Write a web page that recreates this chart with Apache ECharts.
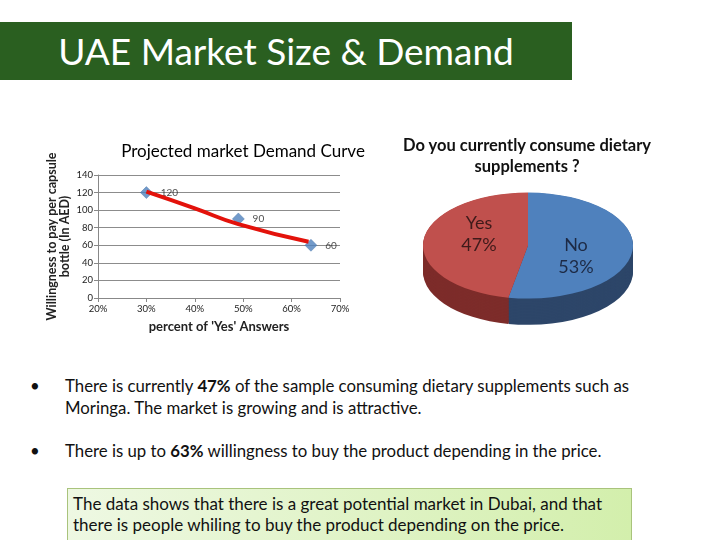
<!DOCTYPE html>
<html>
<head>
<meta charset="utf-8">
<script src="https://cdn.jsdelivr.net/npm/echarts@6/dist/echarts.min.js"></script>
<style>
  body { margin: 0; width: 720px; height: 540px; background: #fff; overflow: hidden; font-family: Lato, "Open Sans", sans-serif; }
  .page { position: relative; width: 720px; height: 540px; }
  .banner { position: absolute; left: 0; top: 22px; width: 572px; height: 58px; background: #2a5f20; color: #fff;
    font-size: 37px; line-height: 58px; text-align: center; }
  #line { position: absolute; left: 0; top: 0; width: 400px; height: 350px; }
  .pieTitle { position: absolute; left: 387px; top: 135px; width: 280px; text-align: center; font-weight: bold; font-size: 16.5px; line-height: 21px; color: #111; }
  #pie { position: absolute; left: 408px; top: 190px; width: 240px; height: 280px; transform: scaleY(0.505); transform-origin: 0 0; }
  .pieLabel { position: absolute; text-align: center; font-size: 18px; line-height: 22px; }
  .bullets { position: absolute; left: 30px; top: 375px; width: 610px; font-size: 16.8px; color: #111; }
  .bullets p { margin: 0 0 21px 0; padding-left: 35px; text-indent: -35px; line-height: 22px; }
  .bullets span.dot { display: inline-block; width: 35px; text-indent: 0; }
  .note { position: absolute; left: 67px; top: 488px; width: 565px; height: 60px; border: 1px solid #a9c37c;
    background: linear-gradient(to right, #eef8e3, #d3efac); font-size: 17px; line-height: 21px; padding: 4px 5px; box-sizing: border-box; color: #111; }
</style>
</head>
<body>
<div class="page">
  <div class="banner">UAE Market Size &amp; Demand</div>
  <div id="line"></div>
  <div class="pieTitle">Do you currently consume dietary<br>supplements ?</div>
  <div id="pie"></div>
  <div id="pieLabels"></div>
  <div class="bullets">
    <p><span class="dot">•</span>There is currently <b>47%</b> of the sample consuming dietary supplements such as Moringa. The market is growing and is attractive.</p>
    <p><span class="dot">•</span>There is up to <b>63%</b> willingness to buy the product depending in the price.</p>
  </div>
  <div class="note">The data shows that there is a great potential market in Dubai, and that there is people whiling to buy the product depending on the price.</div>
</div>
<script>
// demand survey points (percent yes, price in AED)
const yesPercent = [30, 49, 64];
const priceAED = [120, 90, 60];
// trend line
const trendX = [30, 40, 49, 63.5];
const trendY = [121, 102, 84, 64];

// pie data
const pieNames = ['No', 'Yes'];
const pieValues = [53, 47];
const pieTop = ['#4f81bd', '#c0504d'];
const pieSide = ['#2d4669', '#7d2c2a'];
const pieText = ['#1d2a45', '#3e1a1a'];

const font = 'Lato, "Open Sans", sans-serif';

const lineChart = echarts.init(document.getElementById('line'));
lineChart.setOption({
  animation: false,
  title: {
    text: 'Projected market Demand Curve', left: 238, top: 138, textAlign: 'center',
    textStyle: { fontFamily: font, fontSize: 17, fontWeight: 'normal', color: '#000' }
  },
  grid: { left: 98, right: 60, top: 175, bottom: 52 },
  xAxis: {
    type: 'value', min: 20, max: 70, interval: 10,
    name: "percent of 'Yes' Answers", nameLocation: 'middle', nameGap: 22,
    nameTextStyle: { fontFamily: font, fontSize: 13, fontWeight: 'bold', color: '#222' },
    axisLine: { lineStyle: { color: '#888' } },
    axisTick: { show: true, length: 4, lineStyle: { color: '#888' } },
    axisLabel: { formatter: '{value}%', fontFamily: font, fontSize: 9.5, color: '#222', margin: 6 },
    splitLine: { show: false }
  },
  yAxis: {
    type: 'value', min: 0, max: 140, interval: 20,
    name: 'Willingness to pay per capsule\nbottle (In AED)', nameLocation: 'middle', nameGap: 26, nameRotate: 90,
    nameMoveOverlap: false,
    nameTextStyle: { fontFamily: font, fontSize: 12.5, fontWeight: 'bold', color: '#222', lineHeight: 13.5 },
    axisLine: { show: true, lineStyle: { color: '#888' } },
    axisTick: { show: true, length: 4, lineStyle: { color: '#888' } },
    axisLabel: { fontFamily: font, fontSize: 9.5, color: '#222', margin: 5 },
    splitLine: { lineStyle: { color: '#8c8c8c', width: 1 } }
  },
  series: [
    {
      type: 'scatter', symbol: 'diamond', symbolSize: 12,
      itemStyle: { color: '#4f81bd', borderColor: '#3f6ea5', borderWidth: 0.5 },
      label: { show: true, position: 'right', distance: 8, fontFamily: font, fontSize: 10, color: '#222',
        formatter: p => p.value[1] },
      data: yesPercent.map((x, i) => [x, priceAED[i]]),
      z: 2
    },
    {
      type: 'line', smooth: true, symbol: 'none',
      lineStyle: { color: '#e3120b', width: 4 },
      data: trendX.map((x, i) => [x, trendY[i]]),
      z: 3
    }
  ]
});

// 3D-looking pie: stacked darker pies for the side, then the top face
const pieChart = echarts.init(document.getElementById('pie'), null, { renderer: 'svg' });
const cx = 120, cy = 110, r = 105, depth = 52;
const pieSeries = [];
for (let d = depth; d > 0; d -= 3) {
  pieSeries.push({
    type: 'pie', radius: r, center: [cx, cy + d], silent: true, label: { show: false },
    data: pieNames.map((n, i) => ({ name: n, value: pieValues[i], itemStyle: { color: pieSide[i] } }))
  });
}
pieSeries.push({
  type: 'pie', radius: r, center: [cx, cy], label: { show: false },
  data: pieNames.map((n, i) => ({ name: n, value: pieValues[i], itemStyle: { color: pieTop[i] } }))
});
pieChart.setOption({ animation: false, series: pieSeries });

// slice labels, kept unscaled
const labelPos = [[576, 233], [479, 211]];
document.getElementById('pieLabels').innerHTML = pieNames.map((n, i) =>
  `<div class="pieLabel" style="left:${labelPos[i][0] - 30}px;top:${labelPos[i][1]}px;width:60px;color:${pieText[i]}">${n}<br>${pieValues[i]}%</div>`
).join('');
</script>
</body>
</html>
